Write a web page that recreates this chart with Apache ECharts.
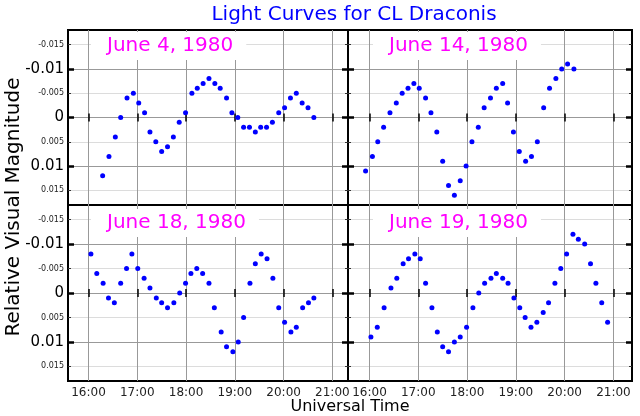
<!DOCTYPE html>
<html>
<head>
<meta charset="utf-8">
<script src="https://cdn.jsdelivr.net/npm/echarts@6/dist/echarts.min.js"></script>
<style>html,body{margin:0;background:#fff}#main{width:640px;height:416px}</style>
</head>
<body>
<div id="main"></div>
<script>
// tick values
var hourTicks = [16, 17, 18, 19, 20, 21];
var magMajor = [-0.01, 0, 0.01];
var magMinor = [-0.015, -0.005, 0.005, 0.015];
var magLabels = [-0.015, -0.01, -0.005, 0, 0.005, 0.01, 0.015];

var nights = ['June 4, 1980', 'June 14, 1980', 'June 18, 1980', 'June 19, 1980'];

// UT in decimal hours, relative magnitude
var june4T = [16.29,16.42,16.55,16.66,16.79,16.92,17.03,17.15,17.26,17.38,17.50,17.62,17.74,17.86,17.99,18.12,18.23,18.35,18.47,18.59,18.70,18.83,18.94,19.06,19.18,19.30,19.42,19.53,19.65,19.77,19.90,20.02,20.14,20.26,20.38,20.50,20.62];
var june4M = [0.012,0.008,0.004,0,-0.004,-0.005,-0.003,-0.001,0.003,0.005,0.007,0.006,0.004,0.001,-0.001,-0.005,-0.006,-0.007,-0.008,-0.007,-0.006,-0.004,-0.001,0,0.002,0.002,0.003,0.002,0.002,0.001,-0.001,-0.002,-0.004,-0.005,-0.003,-0.002,0];

var june14T = [15.92,16.06,16.17,16.29,16.42,16.55,16.67,16.79,16.91,17.02,17.15,17.26,17.38,17.50,17.62,17.74,17.86,17.98,18.10,18.23,18.35,18.48,18.60,18.73,18.83,18.95,19.07,19.20,19.32,19.44,19.57,19.69,19.82,19.94,20.06,20.19];
var june14M = [0.011,0.008,0.005,0.002,-0.001,-0.003,-0.005,-0.006,-0.007,-0.006,-0.004,-0.001,0.003,0.009,0.014,0.016,0.013,0.010,0.005,0.002,-0.002,-0.004,-0.006,-0.007,-0.003,0.003,0.007,0.009,0.008,0.005,-0.002,-0.006,-0.008,-0.010,-0.011,-0.010];

var june18T = [16.05,16.17,16.30,16.41,16.53,16.66,16.78,16.89,17.01,17.14,17.26,17.39,17.50,17.62,17.75,17.87,17.99,18.10,18.22,18.34,18.47,18.58,18.72,18.83,18.96,19.07,19.18,19.31,19.42,19.54,19.66,19.78,19.90,20.02,20.15,20.26,20.39,20.51,20.62];
var june18M = [-0.008,-0.004,-0.002,0.001,0.002,-0.002,-0.005,-0.008,-0.005,-0.003,-0.001,0.001,0.002,0.003,0.002,0,-0.002,-0.004,-0.005,-0.004,-0.002,0.003,0.008,0.011,0.012,0.010,0.005,-0.002,-0.006,-0.008,-0.007,-0.003,0.003,0.006,0.008,0.007,0.003,0.002,0.001];

var june19T = [16.03,16.16,16.30,16.44,16.56,16.69,16.80,16.93,17.04,17.15,17.28,17.39,17.50,17.62,17.74,17.86,17.99,18.12,18.24,18.36,18.49,18.60,18.73,18.84,18.96,19.08,19.19,19.31,19.43,19.56,19.67,19.80,19.92,20.04,20.17,20.28,20.41,20.53,20.64,20.76,20.88];
var june19M = [0.009,0.007,0.003,-0.001,-0.003,-0.006,-0.007,-0.008,-0.007,-0.002,0.003,0.008,0.011,0.012,0.010,0.009,0.007,0.003,0,-0.002,-0.003,-0.004,-0.003,-0.002,0.001,0.003,0.005,0.007,0.006,0.004,0.002,-0.002,-0.005,-0.008,-0.012,-0.011,-0.010,-0.006,-0.002,0.002,0.006];

var times = [june4T, june14T, june18T, june19T];
var mags = [june4M, june14M, june18M, june19M];

var FONT = 'DejaVu Sans';
var myChart = echarts.init(document.getElementById('main'));

var grids = [
	{left: 68, top: 30, width: 280, height: 175},
	{left: 348, top: 30, width: 284, height: 175},
	{left: 68, top: 205, width: 280, height: 176},
	{left: 348, top: 205, width: 284, height: 176}
];
var xRange = [[15.58, 21.32], [15.56, 21.38], [15.58, 21.32], [15.56, 21.38]];
var labelPos = [[91, 46], [373, 46], [91, 223], [373, 223]];

var xAxes = [], yAxes = [], series = [], texts = [];

function yAx(i, pos, ticks, tickStyle, tickLen, split, labels) {
	return {
		type: 'value', gridIndex: i, position: pos,
		min: -0.018, max: 0.018, inverse: true,
		axisLine: {show: false},
		axisTick: {show: true, inside: true, length: tickLen, customValues: ticks, lineStyle: tickStyle},
		axisLabel: {
			show: labels, customValues: magLabels, margin: 4, fontFamily: FONT,
			formatter: function (v) {
				var big = Math.round(Math.abs(v) * 1000) % 10 === 0;
				return (big ? '{big|' : '{small|') + String(v) + '}';
			},
			rich: {
				big: {fontSize: 15, color: '#000', fontFamily: FONT},
				small: {fontSize: 8, color: '#222', fontFamily: FONT}
			}
		},
		splitLine: split ? {show: true, lineStyle: {color: split, width: 1}} : {show: false}
	};
}

for (var i = 0; i < 4; i++) {
	grids[i].show = true;
	grids[i].borderColor = '#000';
	grids[i].borderWidth = 2;
	grids[i].containLabel = false;

	xAxes.push({
		type: 'value', gridIndex: i, position: 'bottom',
		min: xRange[i][0], max: xRange[i][1],
		axisLine: {show: false},
		axisTick: {show: true, inside: true, length: 4, customValues: hourTicks, lineStyle: {color: '#000', width: 1.5}},
		axisLabel: {show: i >= 2, customValues: hourTicks, margin: 6, fontSize: 12, color: '#222', fontFamily: FONT,
			formatter: function (v) { return v + ':00'; }},
		splitLine: {show: true, lineStyle: {color: '#999', width: 1}}
	});
	xAxes.push({
		type: 'value', gridIndex: i, position: 'top',
		min: xRange[i][0], max: xRange[i][1],
		axisLine: {show: false},
		axisTick: {show: true, inside: true, length: 4, customValues: hourTicks, lineStyle: {color: '#000', width: 1.5}},
		axisLabel: {show: false},
		splitLine: {show: false}
	});

	var major = {color: '#000', width: 2.5};
	var minor = {color: '#333', width: 1};
	yAxes.push(yAx(i, 'left', magMinor, minor, 3, '#dcdcdc', false));
	yAxes.push(yAx(i, 'right', magMinor, minor, 3, null, false));
	yAxes.push(yAx(i, 'left', magMajor, major, 6, '#999', i % 2 === 0));
	yAxes.push(yAx(i, 'right', magMajor, major, 6, null, false));

	series.push({
		name: nights[i],
		type: 'scatter',
		xAxisIndex: 2 * i,
		yAxisIndex: 4 * i + 2,
		symbolSize: 5,
		itemStyle: {color: '#0000ff', opacity: 1},
		data: times[i].map(function (t, k) { return [t, mags[i][k]]; })
	});
	// 每个面板的日期标签
	texts.push({
		type: 'text', x: labelPos[i][0], y: labelPos[i][1], z: 10,
		style: {text: nights[i], fontSize: 20, fontFamily: FONT, fill: '#ff00ff', align: 'left', verticalAlign: 'middle',
			backgroundColor: '#fff', padding: [5, 13, 3, 16]}
	});
}

texts.push({
	type: 'text', x: 354, y: 15, z: 10,
	style: {text: 'Light Curves for CL Draconis', fontSize: 20, fontFamily: FONT, fill: '#0000ff', align: 'center', verticalAlign: 'middle'}
});
texts.push({
	type: 'text', x: 14, y: 207, z: 10, rotation: Math.PI / 2,
	style: {text: 'Relative Visual Magnitude', fontSize: 20, fontFamily: FONT, fill: '#000', align: 'center', verticalAlign: 'middle'}
});
texts.push({
	type: 'text', x: 350, y: 407, z: 10,
	style: {text: 'Universal Time', fontSize: 16, fontFamily: FONT, fill: '#000', align: 'center', verticalAlign: 'middle'}
});

option = {
	animation: false,
	backgroundColor: '#fff',
	textStyle: {fontFamily: FONT},
	grid: grids,
	xAxis: xAxes,
	yAxis: yAxes,
	series: series,
	graphic: {elements: texts}
};
myChart.setOption(option);
</script>
</body>
</html>
